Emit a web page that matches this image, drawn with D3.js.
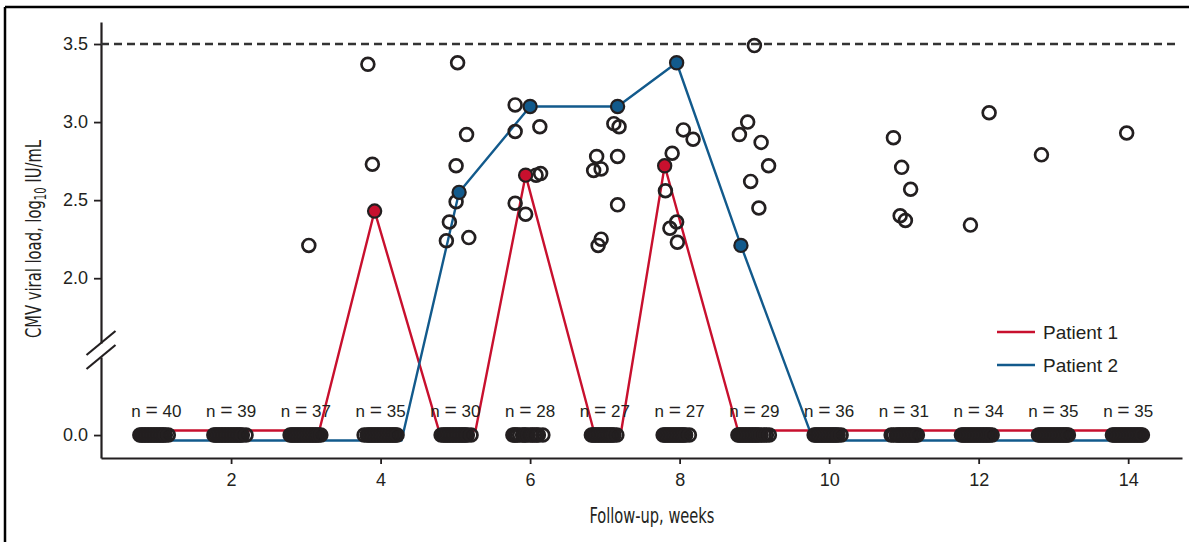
<!DOCTYPE html>
<html>
<head>
<meta charset="utf-8">
<script src="https://cdn.jsdelivr.net/npm/d3@7"></script>
<style>
  html, body { margin: 0; padding: 0; background: #fff; }
  svg { display: block; }
  text { font-family: "Liberation Sans", Arial, sans-serif; fill: #231f20; }
  .cond { font-family: "Liberation Sans Narrow", "DejaVu Sans Condensed", sans-serif; }
</style>
</head>
<body>
<svg id="chart" width="1189" height="542"></svg>
<script>
// weeks with a count of samples
const weeks = [1, 2, 3, 4, 5, 6, 7, 8, 9, 10, 11, 12, 13, 14];
const nLabels = [40, 39, 37, 35, 30, 28, 27, 27, 29, 36, 31, 34, 35, 35];

// x positions (weeks) of the samples sitting at 0.0 for every week
const zeroX = [
  [0.78, 0.8, 0.82, 0.84, 0.86, 0.88, 0.9, 0.92, 0.94, 0.96, 0.98, 1.0, 1.02, 1.04, 1.06, 1.08, 1.1, 1.12, 1.16],
  [1.77, 1.79, 1.81, 1.83, 1.85, 1.87, 1.89, 1.91, 1.93, 1.95, 1.97, 1.99, 2.01, 2.03, 2.05, 2.07, 2.09, 2.11, 2.13, 2.15, 2.2],
  [2.79, 2.81, 2.83, 2.85, 2.87, 2.89, 2.91, 2.93, 2.95, 2.97, 2.99, 3.01, 3.03, 3.05, 3.07, 3.09, 3.11, 3.13, 3.15, 3.17, 3.2],
  [3.78, 3.82, 3.84, 3.86, 3.88, 3.9, 3.92, 3.94, 3.96, 3.98, 4.0, 4.02, 4.04, 4.06, 4.08, 4.1, 4.12, 4.14, 4.16, 4.18, 4.2, 4.22],
  [4.81, 4.84, 4.86, 4.88, 4.9, 4.92, 4.94, 4.96, 4.98, 5.0, 5.02, 5.04, 5.06, 5.08, 5.1, 5.12, 5.14, 5.16, 5.21],
  [5.77, 5.79, 5.81, 5.83, 5.86, 5.9, 5.92, 5.94, 5.97, 6.01, 6.03, 6.06, 6.09, 6.11, 6.17],
  [6.82, 6.84, 6.86, 6.88, 6.9, 6.92, 6.94, 6.96, 6.98, 7.0, 7.02, 7.04, 7.06, 7.08, 7.1, 7.12, 7.16],
  [7.78, 7.8, 7.82, 7.84, 7.86, 7.88, 7.9, 7.92, 7.94, 7.96, 7.98, 8.0, 8.02, 8.04, 8.06, 8.08, 8.13],
  [8.78, 8.8, 8.82, 8.84, 8.86, 8.88, 8.9, 8.92, 8.94, 8.96, 8.98, 9.0, 9.02, 9.04, 9.06, 9.09, 9.13, 9.16, 9.2],
  [9.8, 9.82, 9.84, 9.86, 9.88, 9.9, 9.92, 9.94, 9.96, 9.98, 10.0, 10.02, 10.04, 10.06, 10.08, 10.1, 10.12, 10.16],
  [10.83, 10.86, 10.9, 10.92, 10.94, 10.96, 10.98, 11.0, 11.02, 11.04, 11.06, 11.08, 11.1, 11.12, 11.14, 11.16, 11.18],
  [11.77, 11.79, 11.81, 11.83, 11.85, 11.87, 11.89, 11.91, 11.93, 11.95, 11.97, 11.99, 12.01, 12.03, 12.05, 12.07, 12.09, 12.11, 12.13, 12.15, 12.18],
  [12.8, 12.82, 12.84, 12.86, 12.88, 12.9, 12.92, 12.94, 12.96, 12.98, 13.0, 13.02, 13.04, 13.06, 13.08, 13.1, 13.12, 13.14, 13.16, 13.18, 13.2],
  [13.79, 13.81, 13.83, 13.85, 13.87, 13.89, 13.91, 13.93, 13.95, 13.97, 13.99, 14.01, 14.03, 14.05, 14.07, 14.09, 14.11, 14.13, 14.15, 14.17, 14.19]
];

// detectable samples, other patients
const detWeek = [3.04, 3.83, 3.89,
  5.03, 5.15, 5.01, 5.01, 4.92, 4.88, 5.18,
  5.8, 5.8, 6.13, 6.08, 6.14, 5.8, 5.94,
  7.12, 7.19, 6.89, 7.17, 6.85, 6.95, 7.17, 6.95, 6.91,
  8.05, 8.18, 7.9, 7.81, 7.96, 7.87, 7.97,
  9.0, 8.91, 8.8, 9.09, 9.19, 8.95, 9.06,
  10.86, 10.97, 11.09, 10.95, 11.02, 11.89, 12.14, 12.84, 13.98];
const detLoad = [2.21, 3.37, 2.73,
  3.38, 2.92, 2.72, 2.49, 2.36, 2.24, 2.26,
  3.11, 2.94, 2.97, 2.66, 2.67, 2.48, 2.41,
  2.99, 2.97, 2.78, 2.78, 2.69, 2.7, 2.47, 2.25, 2.21,
  2.95, 2.89, 2.8, 2.56, 2.36, 2.32, 2.23,
  3.49, 3.0, 2.92, 2.87, 2.72, 2.62, 2.45,
  2.9, 2.71, 2.57, 2.4, 2.37, 2.34, 3.06, 2.79, 2.93];

// the two highlighted patients
const p1Week = [1, 2, 3.18, 3.92, 4.78, 5.27, 5.94, 6.85, 7.22, 7.8, 8.78, 10, 11, 12, 13, 14];
const p1Load = [0, 0, 0, 2.43, 0, 0, 2.66, 0, 0, 2.72, 0, 0, 0, 0, 0, 0];
const p1Marked = [3.92, 5.94, 7.8];
const p2Week = [1, 2, 3, 4.28, 5.05, 6.0, 7.17, 7.96, 8.82, 9.79, 11, 12, 13, 14];
const p2Load = [0, 0, 0, 0, 2.55, 3.1, 3.1, 3.38, 2.21, 0, 0, 0, 0, 0];
const p2Marked = [5.05, 6.0, 7.17, 7.96, 8.82];

const xTicks = [2, 4, 6, 8, 10, 12, 14];
const yTicksHigh = [2.0, 2.5, 3.0, 3.5];
const yTicksLow = [0.0];
const threshold = 3.5;

const red = "#c8102e";
const blue = "#125a8c";
const ink = "#231f20";

let svg = d3.select("#chart");

// figure frame
svg.append("line").attr("x1", 5).attr("x2", 1189).attr("y1", 7).attr("y2", 7)
  .attr("stroke", "#000").attr("stroke-width", 2.5);
svg.append("line").attr("x1", 5).attr("x2", 5).attr("y1", 7).attr("y2", 542)
  .attr("stroke", "#000").attr("stroke-width", 2.5);

let scX = d3.scaleLinear().domain([0.26, 14.72]).range([101, 1182]);
let scHigh = d3.scaleLinear().domain([1.585, 3.641]).range([343, 22]);
let scLow = d3.scaleLinear().domain([-0.147, 0.5]).range([458, 357]);
let yPos = (v) => (v >= 1.5 ? scHigh(v) : scLow(v));

// axes
let axX = svg.append("g").attr("transform", "translate(0," + scLow(-0.147) + ")")
  .call(d3.axisBottom(scX).tickValues(xTicks).tickFormat(d3.format("d"))
    .tickSize(6).tickSizeOuter(0).tickPadding(9));

let axHigh = svg.append("g").attr("transform", "translate(" + scX(0.26) + ",0)")
  .call(d3.axisLeft(scHigh).tickValues(yTicksHigh).tickFormat(d3.format(".1f"))
    .tickSize(7).tickSizeOuter(0).tickPadding(6));
let axLow = svg.append("g").attr("transform", "translate(" + scX(0.26) + ",0)")
  .call(d3.axisLeft(scLow).tickValues(yTicksLow).tickFormat(d3.format(".1f"))
    .tickSize(7).tickSizeOuter(0).tickPadding(6));

[axX, axHigh, axLow].forEach((g) => {
  g.select(".domain").attr("stroke", ink).attr("stroke-width", 2.2);
  g.selectAll(".tick line").attr("stroke", ink).attr("stroke-width", 1.8);
  g.selectAll(".tick text").attr("font-size", 18).attr("fill", ink)
    .attr("font-family", "'Liberation Sans', Arial, sans-serif");
});

// axis break marks
let x0 = scX(0.26);
[scHigh(1.585), scLow(0.5)].forEach((yb) => {
  svg.append("line").attr("x1", x0 - 14.5).attr("y1", yb + 12)
    .attr("x2", x0 + 14.5).attr("y2", yb - 12)
    .attr("stroke", ink).attr("stroke-width", 2.2);
});

// threshold line
svg.append("line").attr("x1", scX(0.26)).attr("x2", scX(14.66))
  .attr("y1", scHigh(threshold)).attr("y2", scHigh(threshold))
  .attr("stroke", "#333").attr("stroke-width", 2.5).attr("stroke-dasharray", "8,5");

// patient lines (drawn slightly apart at 0.0 so both are visible)
let drawLine = function (wk, ld, colour, shift) {
  let mk = d3.line()
    .x((d, i) => scX(wk[i]))
    .y((d) => yPos(d) + (d === 0 ? shift : 0));
  svg.append("path").attr("fill", "none").attr("stroke", colour)
    .attr("stroke-width", 2.4).attr("stroke-linejoin", "round").attr("d", mk(ld));
};
drawLine(p1Week, p1Load, red, -4.5);
drawLine(p2Week, p2Load, blue, 5.5);

// undetectable samples
let gz = svg.append("g");
weeks.forEach((w, i) => {
  gz.selectAll(null).data(zeroX[i]).enter().append("circle")
    .attr("cx", (d) => scX(d)).attr("cy", scLow(0)).attr("r", 6.4)
    .attr("fill", "none").attr("stroke", ink).attr("stroke-width", 2.8);
});

// detectable samples
svg.append("g").selectAll("circle").data(detWeek).enter().append("circle")
  .attr("cx", (d) => scX(d)).attr("cy", (d, i) => scHigh(detLoad[i])).attr("r", 6.4)
  .attr("fill", "none").attr("stroke", ink).attr("stroke-width", 2.7);

// highlighted patient points
let drawMarks = function (marks, wk, ld, colour) {
  svg.append("g").selectAll("circle").data(marks).enter().append("circle")
    .attr("cx", (d) => scX(d))
    .attr("cy", (d) => yPos(ld[wk.indexOf(d)]))
    .attr("r", 6.6).attr("fill", colour).attr("stroke", ink).attr("stroke-width", 2.2);
};
drawMarks(p1Marked, p1Week, p1Load, red);
drawMarks(p2Marked, p2Week, p2Load, blue);

// n labels
let nl = svg.append("g").selectAll("text").data(weeks).enter().append("text")
  .attr("x", (d) => scX(d)).attr("y", scLow(0) - 18)
  .attr("text-anchor", "middle").attr("font-size", 17);
nl.append("tspan").text("n ");
nl.append("tspan").attr("font-size", 21).text("=");
nl.append("tspan").text((d, i) => " " + nLabels[i]);

// legend
let legend = [["Patient 1", red], ["Patient 2", blue]];
legend.forEach((l, i) => {
  let ly = 332 + i * 33;
  svg.append("line").attr("x1", 997).attr("x2", 1035).attr("y1", ly).attr("y2", ly)
    .attr("stroke", l[1]).attr("stroke-width", 2.6);
  svg.append("text").attr("x", 1043).attr("y", ly + 7).attr("font-size", 19).text(l[0]);
});

// axis titles
svg.append("text").attr("class", "cond")
  .attr("x", scX(7.63)).attr("y", 523).attr("text-anchor", "middle")
  .attr("font-size", 22).attr("textLength", 125).attr("lengthAdjust", "spacingAndGlyphs")
  .text("Follow-up, weeks");

let yt = svg.append("text").attr("class", "cond")
  .attr("transform", "translate(41,239) rotate(-90)")
  .attr("text-anchor", "middle").attr("font-size", 22)
  .attr("textLength", 198).attr("lengthAdjust", "spacingAndGlyphs");
yt.append("tspan").text("CMV viral load, log");
yt.append("tspan").attr("font-size", 15).attr("dy", 5).text("10");
yt.append("tspan").attr("dy", -5).text(" IU/mL");
</script>
</body>
</html>
